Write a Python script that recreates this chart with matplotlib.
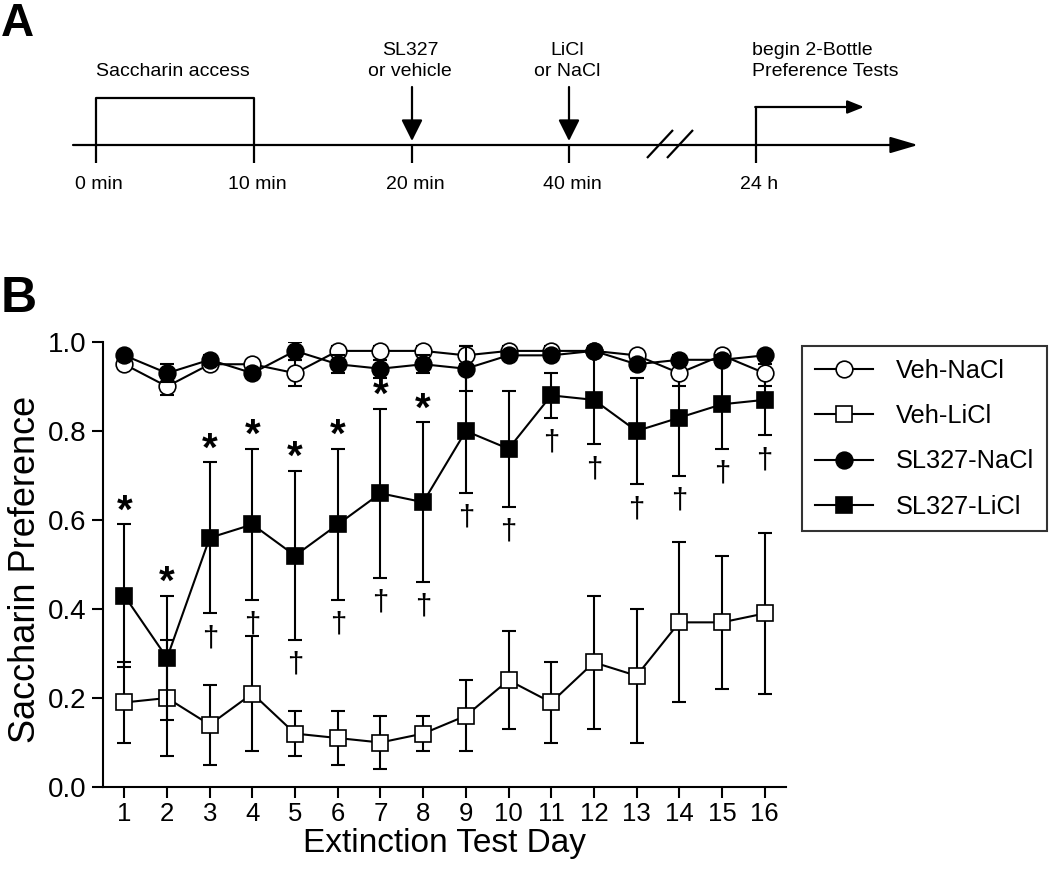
import matplotlib
matplotlib.use("Agg")
import matplotlib.pyplot as plt
from matplotlib.lines import Line2D
import numpy as np

plt.rcParams['font.family'] = ['Liberation Sans', 'DejaVu Sans']
NARROW = ['Liberation Sans Narrow', 'Liberation Sans', 'DejaVu Sans']

# ---------------- data ----------------
days = list(range(1, 17))
veh_nacl = [0.95, 0.90, 0.95, 0.95, 0.93, 0.98, 0.98, 0.98, 0.97, 0.98, 0.98, 0.98, 0.97, 0.93, 0.97, 0.93]
veh_nacl_sem = [0.01, 0.02, 0.01, 0.01, 0.03, 0.01, 0.01, 0.01, 0.02, 0.01, 0.01, 0.01, 0.01, 0.03, 0.01, 0.03]
sl_nacl = [0.97, 0.93, 0.96, 0.93, 0.98, 0.95, 0.94, 0.95, 0.94, 0.97, 0.97, 0.98, 0.95, 0.96, 0.96, 0.97]
sl_nacl_sem = [0.01, 0.02, 0.01, 0.01, 0.02, 0.02, 0.02, 0.02, 0.05, 0.01, 0.01, 0.01, 0.01, 0.01, 0.01, 0.01]
veh_licl = [0.19, 0.20, 0.14, 0.21, 0.12, 0.11, 0.10, 0.12, 0.16, 0.24, 0.19, 0.28, 0.25, 0.37, 0.37, 0.39]
veh_licl_sem = [0.09, 0.13, 0.09, 0.13, 0.05, 0.06, 0.06, 0.04, 0.08, 0.11, 0.09, 0.15, 0.15, 0.18, 0.15, 0.18]
sl_licl = [0.43, 0.29, 0.56, 0.59, 0.52, 0.59, 0.66, 0.64, 0.80, 0.76, 0.88, 0.87, 0.80, 0.83, 0.86, 0.87]
sl_licl_sem = [0.16, 0.14, 0.17, 0.17, 0.19, 0.17, 0.19, 0.18, 0.14, 0.13, 0.05, 0.10, 0.12, 0.13, 0.10, 0.08]

star_days = [1, 2, 3, 4, 5, 6, 7, 8]
dagger_days = [3, 4, 5, 6, 7, 8, 9, 10, 11, 12, 13, 14, 15, 16]

series_labels = ['Veh-NaCl', 'Veh-LiCl', 'SL327-NaCl', 'SL327-LiCl']
yticks = [0.0, 0.2, 0.4, 0.6, 0.8, 1.0]

timeline_labels = ['0 min', '10 min', '20 min', '40 min', '24 h']

W, H = 1050, 872
fig = plt.figure(figsize=(W / 100, H / 100), dpi=100)

# ---------------- Panel A (timeline schematic) ----------------
axA = fig.add_axes([0, 1 - 210 / H, 1, 210 / H])
axA.set_xlim(0, W)
axA.set_ylim(210, 0)
axA.axis('off')
lw = 1.6
kw = dict(color='black', lw=lw, solid_capstyle='butt')
ylin = 145
fsA = 14
# main time line
axA.annotate('', xy=(918, ylin), xytext=(73, ylin),
             arrowprops=dict(arrowstyle='-|>,head_length=1.7,head_width=0.5', lw=lw, color='black',
                             shrinkA=0, shrinkB=0, mutation_scale=10))
tick_x = [96, 254, 412, 569, 756]
for tx, lab in zip(tick_x, timeline_labels):
    axA.plot([tx, tx], [ylin, 163], **kw)
    axA.text(tx + 3, 184, lab, ha='center', va='center', fontsize=fsA, family=NARROW)
# saccharin access box
axA.plot([tick_x[0], tick_x[0], tick_x[1], tick_x[1]], [ylin, 98, 98, ylin], **kw)
axA.text((tick_x[0] + tick_x[1]) / 2 - 2, 72, 'Saccharin access', ha='center', va='center', fontsize=fsA, family=NARROW)
# injection arrows
for tx, txt in zip(tick_x[2:4], ['SL327\nor vehicle', 'LiCl\nor NaCl']):
    axA.annotate('', xy=(tx, 141), xytext=(tx, 87),
                 arrowprops=dict(arrowstyle='-|>,head_length=1.3,head_width=0.65', lw=lw, color='black',
                                 shrinkA=0, shrinkB=0, mutation_scale=10))
    axA.text(tx - 2, 61, txt, ha='center', va='center', fontsize=fsA, family=NARROW, linespacing=1.3)
# break marks
for dx in (0, 20):
    axA.plot([647 + dx, 673 + dx], [158, 130], **kw)
# 24 h: begin tests
axA.plot([tick_x[4], tick_x[4]], [ylin, 107], **kw)
axA.annotate('', xy=(864, 107), xytext=(tick_x[4] - 0.8, 107),
             arrowprops=dict(arrowstyle='-|>,head_length=1.0,head_width=0.4', lw=lw, color='black',
                             shrinkA=0, shrinkB=0, mutation_scale=10))
axA.text(752, 61, 'begin 2-Bottle\nPreference Tests', ha='left', va='center', fontsize=fsA,
         family=NARROW, linespacing=1.3)

fig.text(1 / W, 1 - 2 / H, 'A', fontsize=33, fontweight='bold', va='top', ha='left')
fig.text(1 / W, 1 - 276 / H, 'B', fontsize=36, fontweight='bold', va='top', ha='left')

# ---------------- Panel B ----------------
ax = fig.add_axes([103 / W, 1 - 787 / H, 683 / W, 445 / H])
ax.set_xlim(0.5, 16.5)
ax.set_ylim(0, 1.0)
for s in ('top', 'right'):
    ax.spines[s].set_visible(False)
for s in ('left', 'bottom'):
    ax.spines[s].set_linewidth(1.5)

elw = 1.5
cap = 4.7
ms = 12
mew = 1.2
series = [
    (veh_licl, veh_licl_sem, 's', 'white', 2),
    (sl_licl, sl_licl_sem, 's', 'black', 3),
    (veh_nacl, veh_nacl_sem, 'o', 'white', 4),
    (sl_nacl, sl_nacl_sem, 'o', 'black', 5),
]
for vals, sem, mk, fc, z in series:
    ax.errorbar(days, vals, yerr=sem, fmt='none', ecolor='black', elinewidth=elw,
                capsize=cap, capthick=elw, zorder=z)
    ax.plot(days, vals, color='black', lw=1.5, marker=mk, markersize=ms,
            markerfacecolor=fc, markeredgecolor='black', markeredgewidth=mew, zorder=z + 0.5)

# significance symbols
for d in star_days:
    i = days.index(d)
    ax.text(d, sl_licl[i] + sl_licl_sem[i] + 0.004, '*', ha='center', va='baseline',
            fontsize=29, fontweight='bold')
for d in dagger_days:
    i = days.index(d)
    ax.text(d, sl_licl[i] - sl_licl_sem[i] - 0.024, '\u2020', ha='center', va='top', fontsize=21)

ax.set_xticks(days)
ax.set_xticklabels([str(d) for d in days], family=NARROW, fontsize=18.5)
ax.set_yticks(yticks)
ax.set_yticklabels(['%.1f' % v for v in yticks], fontsize=20)
ax.tick_params(axis='both', direction='out', length=8, width=1.5, color='black')
ax.tick_params(axis='x', pad=3)
ax.tick_params(axis='y', pad=4)
ax.set_xlabel('Extinction Test Day', fontsize=24)
ax.set_ylabel('Saccharin Preference', fontsize=26)
ax.xaxis.set_label_coords(0.5, -0.093)
ax.yaxis.set_label_coords(-0.088, 0.49)

# legend
markers = {'Veh-NaCl': ('o', 'white'), 'Veh-LiCl': ('s', 'white'),
           'SL327-NaCl': ('o', 'black'), 'SL327-LiCl': ('s', 'black')}
handles = [Line2D([], [], color='black', lw=1.5, marker=markers[l][0], markersize=ms,
                  markerfacecolor=markers[l][1], markeredgecolor='black', markeredgewidth=mew)
           for l in series_labels]
leg = fig.legend(handles, series_labels, loc='upper left', bbox_to_anchor=(802 / W, 1 - 346 / H),
                 frameon=True, fancybox=False, edgecolor='black', fontsize=18.3,
                 borderpad=0.5, labelspacing=0.84, handlelength=2.3, handletextpad=0.9,
                 borderaxespad=0)
leg.get_frame().set_linewidth(1.5)

fig.savefig('out.png', dpi=100)
